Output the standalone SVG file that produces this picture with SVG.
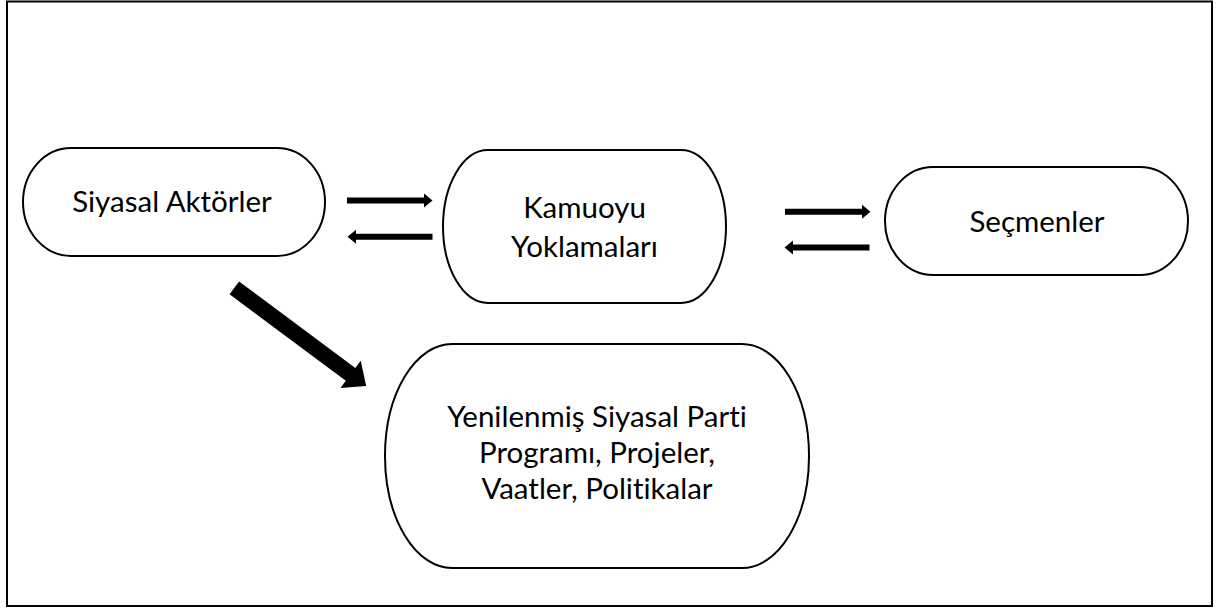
<svg xmlns="http://www.w3.org/2000/svg" width="1217" height="608" viewBox="0 0 1217 608">
  <style>
    .frame { fill: #ffffff; stroke: #000000; stroke-width: 2; }
    .node { fill: #ffffff; stroke: #000000; stroke-width: 2; }
    .label { font-family: "Lato", "Liberation Sans", sans-serif; font-size: 29.5px; fill: #000000; text-anchor: middle; font-variant-ligatures: none; font-feature-settings: "liga" 0; }
    .arrow { fill: #000000; stroke: none; }
  </style>

  <!-- outer frame -->
  <rect class="frame" x="7" y="1.5" width="1205" height="604.5"/>

  <!-- terminator-shaped nodes -->
  <g id="siyasal-aktorler">
    <path class="node" d="M71,148 H277 A48,54 0 0 1 277,256 H71 A48,54 0 0 1 71,148 Z"/>
    <text class="label" x="172" y="212">Siyasal Aktörler</text>
  </g>

  <g id="kamuoyu-yoklamalari">
    <path class="node" d="M488,150 H681 A45,76.5 0 0 1 681,303 H488 A45,76.5 0 0 1 488,150 Z"/>
    <text class="label" x="584.5" y="218">Kamuoyu</text>
    <text class="label" x="584.5" y="257">Yoklamaları</text>
  </g>

  <g id="secmenler">
    <path class="node" d="M933,167 H1140 A48,54 0 0 1 1140,275 H933 A48,54 0 0 1 933,167 Z"/>
    <text class="label" x="1037" y="232">Seçmenler</text>
  </g>

  <g id="yenilenmis-program">
    <path class="node" d="M452,344 H742 A67,112 0 0 1 742,568 H452 A67,112 0 0 1 452,344 Z"/>
    <text class="label" x="597" y="427">Yenilenmiş Siyasal Parti</text>
    <text class="label" x="597" y="463">Programı, Projeler,</text>
    <text class="label" x="597" y="499">Vaatler, Politikalar</text>
  </g>

  <!-- connectors -->
  <g id="connectors">
    <!-- Siyasal Aktörler -> Kamuoyu Yoklamaları -->
    <polygon class="arrow" points="347,197.5 424,197.5 424,193.5 432.5,200.5 424,207.5 424,203.5 347,203.5"/>
    <!-- Kamuoyu Yoklamaları -> Siyasal Aktörler -->
    <polygon class="arrow" points="432.5,233.7 356,233.7 356,229.7 347.5,236.7 356,243.7 356,239.7 432.5,239.7"/>
    <!-- Kamuoyu Yoklamaları -> Seçmenler -->
    <polygon class="arrow" points="785,208.7 862,208.7 862,204.7 870.5,211.7 862,218.7 862,214.7 785,214.7"/>
    <!-- Seçmenler -> Kamuoyu Yoklamaları -->
    <polygon class="arrow" points="869.5,244.5 793,244.5 793,240.5 784.5,247.5 793,254.5 793,250.5 869.5,250.5"/>
    <!-- Siyasal Aktörler -> Yenilenmiş program (thick diagonal) -->
    <polygon class="arrow" transform="translate(234.3,287.8) rotate(36.7)" points="0,-8 145,-8 145,-17 164.5,0 145,17 145,8 0,8"/>
  </g>
</svg>
